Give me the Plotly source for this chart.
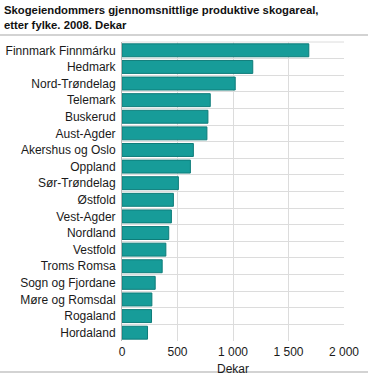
import plotly.graph_objects as go

categories = ["Finnmark Finnmárku", "Hedmark", "Nord-Trøndelag", "Telemark", "Buskerud",
              "Aust-Agder", "Akershus og Oslo", "Oppland", "Sør-Trøndelag", "Østfold",
              "Vest-Agder", "Nordland", "Vestfold", "Troms Romsa", "Sogn og Fjordane",
              "Møre og Romsdal", "Rogaland", "Hordaland"]
values = [1683, 1178, 1020, 795, 774, 765, 643, 616, 508, 463, 445, 421, 395, 362, 299, 269, 266, 230]
tick_vals = [0, 500, 1000, 1500, 2000]
tick_text = ["0", "500", "1 000", "1 500", "2 000"]

FONT = "Liberation Sans, Arial, sans-serif"
W, H = 370, 377
L, R, T, B = 122, 26, 42, 36
pw, ph = W - L - R, H - T - B

def px_x(p):
    return (p - L) / pw

def px_y(p):
    return (H - B - p) / ph

fig = go.Figure(go.Bar(
    x=values, y=categories, orientation="h",
    marker=dict(color="#179c99", line=dict(color="#0e7c79", width=1)),
    width=0.78,
))

fig.update_layout(
    width=W, height=H,
    margin=dict(l=L, r=R, t=T, b=B),
    paper_bgcolor="white", plot_bgcolor="white",
    font=dict(family=FONT, size=12, color="#1a1a1a"),
    showlegend=False,
    xaxis=dict(range=[0, 2000], tickvals=tick_vals, ticktext=tick_text,
               showgrid=True, gridcolor="#dcdcdc", gridwidth=1,
               zeroline=False, showline=False, ticks="", automargin=False,
               title=dict(text="Dekar", standoff=6, font=dict(size=12)),
               tickfont=dict(size=12), ticklabelstandoff=2, fixedrange=True),
    yaxis=dict(categoryorder="array", categoryarray=categories, autorange="reversed",
               type="category", tickson="boundaries", showgrid=True, gridcolor="#dcdcdc",
               gridwidth=1, ticks="", showline=True, linecolor="#b5b5b5", linewidth=1,
               mirror=False, tickfont=dict(size=12), ticklabelstandoff=3,
               automargin=False, fixedrange=True),
    annotations=[dict(
        text="<b>Skogeiendommers gjennomsnittlige produktive skogareal,<br>etter fylke. 2008. Dekar</b>",
        xref="paper", yref="paper", x=px_x(2), y=px_y(1.5), xanchor="left", yanchor="top",
        align="left", showarrow=False, font=dict(size=11.3, family=FONT, color="#111111"),
    )],
    shapes=[
        dict(type="line", xref="paper", yref="paper", x0=px_x(0), x1=px_x(368),
             y0=px_y(35), y1=px_y(35), line=dict(color="#c4c4c4", width=1.5)),
        dict(type="line", xref="paper", yref="paper", x0=px_x(0), x1=px_x(368),
             y0=px_y(372), y1=px_y(372), line=dict(color="#c4c4c4", width=1.5)),
        dict(type="line", xref="paper", yref="paper", x0=0, x1=1, y0=1, y1=1,
             line=dict(color="#dcdcdc", width=1)),
    ],
)

fig.write_html("out.html", config={"displayModeBar": False, "staticPlot": True},
               post_script="document.body.style.margin='0';document.body.style.overflow='hidden';")
